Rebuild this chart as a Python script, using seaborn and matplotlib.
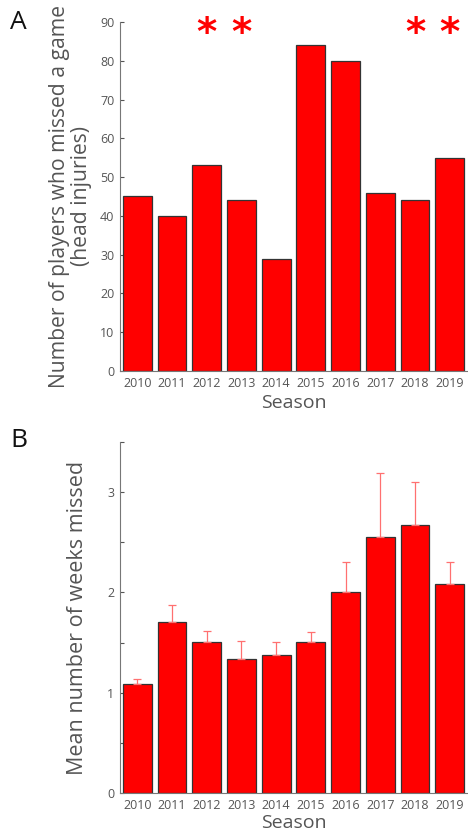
import numpy as np
import pandas as pd
import matplotlib
matplotlib.use("Agg")
import matplotlib.pyplot as plt
import seaborn as sns

seasons = ["2010", "2011", "2012", "2013", "2014", "2015", "2016", "2017", "2018", "2019"]
players_missed = [45, 40, 53, 44, 29, 84, 80, 46, 44, 55]
starred = ["2012", "2013", "2018", "2019"]
weeks_missed = [1.09, 1.70, 1.51, 1.34, 1.38, 1.51, 2.00, 2.55, 2.67, 2.08]
weeks_err = [0.05, 0.17, 0.11, 0.18, 0.13, 0.10, 0.30, 0.64, 0.43, 0.22]

sns.set_style("ticks")
plt.rcParams['font.family'] = ['Open Sans', 'DejaVu Sans']

df_a = pd.DataFrame({'Season': seasons, 'Players': players_missed})
df_b = pd.DataFrame({'Season': seasons, 'Weeks': weeks_missed, 'Err': weeks_err})

fig = plt.figure(figsize=(4.68, 8.35), dpi=100)
ax1 = fig.add_axes([0.2564, 0.5557, 0.7416, 0.418])
ax2 = fig.add_axes([0.2564, 0.0503, 0.7416, 0.4204])

grey = '#555555'

# panel A
sns.barplot(data=df_a, x='Season', y='Players', color='red', saturation=1,
            width=0.83, edgecolor='#333333', linewidth=0.9, ax=ax1)
for s in starred:
    i = seasons.index(s)
    ax1.text(i, 87, '*', color='red', fontsize=28, fontweight='bold',
             ha='center', va='center', family='DejaVu Sans')
ax1.set_ylim(0, 90)
ax1.set_yticks(range(0, 91, 10))
ax1.set_ylabel('Number of players who missed a game\n(head injuries)',
               fontsize=15.2, color=grey, linespacing=1.05, labelpad=6)
ax1.set_xlabel('Season', fontsize=14, color=grey, labelpad=3)

# panel B
sns.barplot(data=df_b, x='Season', y='Weeks', color='red', saturation=1,
            width=0.83, edgecolor='#333333', linewidth=0.9, ax=ax2)
ax2.errorbar(np.arange(len(seasons)), df_b['Weeks'],
             yerr=[np.zeros(len(seasons)), df_b['Err']],
             fmt='none', ecolor='#ff7070', elinewidth=0.9, capsize=3, capthick=0.9)
ax2.set_ylim(0, 3.5)
ax2.set_yticks(np.arange(0, 3.51, 0.5))
ax2.set_yticklabels(['0', '', '1', '', '2', '', '3', ''])
ax2.set_ylabel('Mean number of weeks missed', fontsize=15.5, color=grey, labelpad=14)
ax2.set_xlabel('Season', fontsize=14, color=grey, labelpad=2)

for ax in (ax1, ax2):
    ax.set_xlim(-0.5, 9.5)
    ax.tick_params(direction='in', length=3, width=0.8, colors=grey, labelsize=9, pad=4)
    sns.despine(ax=ax)
    for sp in ('left', 'bottom'):
        ax.spines[sp].set_color('#777777')
        ax.spines[sp].set_linewidth(0.8)

fig.text(0.022, 0.988, 'A', fontsize=19, color='#111111', va='top')
fig.text(0.022, 0.488, 'B', fontsize=19, color='#111111', va='top')

fig.savefig('out.png', dpi=100)
